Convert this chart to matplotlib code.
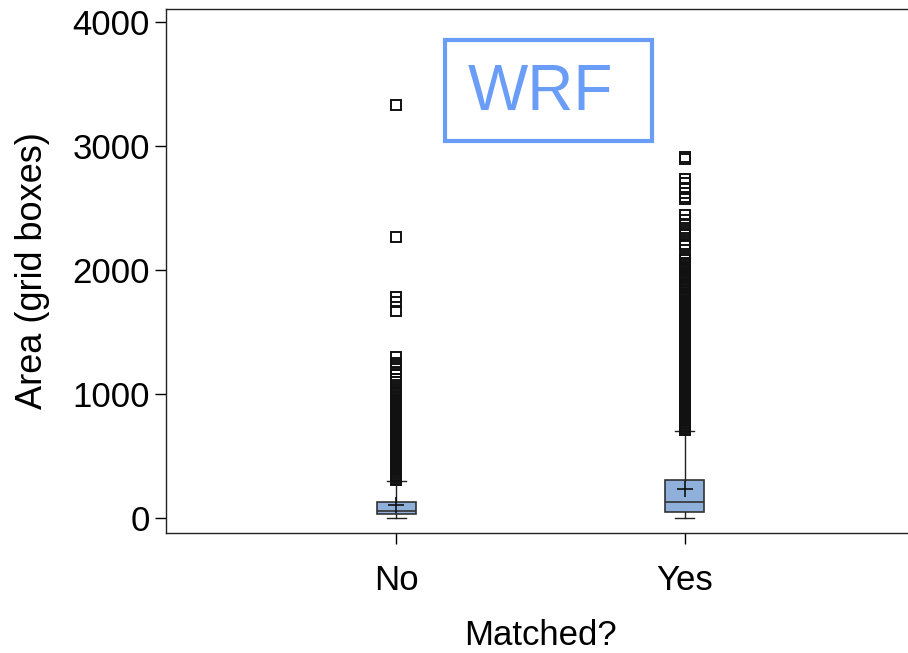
import matplotlib.pyplot as plt
from matplotlib.patches import Rectangle

plt.rcParams['font.family'] = ['Liberation Sans', 'DejaVu Sans']

groups = ['No', 'Yes']

# box statistics per group
q1 = [32, 48]
median = [56, 129]
q3 = [129, 306]
mean = [105, 234]
whisker_lo = [1, 1]
whisker_hi = [298, 702]

# outliers above the upper whisker
fliers_no = [
    305, 316, 327, 339, 350, 362, 373, 385, 397, 408, 420, 431, 443, 455,
    466, 478, 489, 501, 512, 524, 536, 547, 559, 570, 582, 594, 605, 617,
    628, 640, 652, 663, 675, 686, 698, 710, 721, 733, 744, 756, 768, 779,
    795, 806, 818, 830, 841, 853, 864, 876, 888, 899, 911, 922, 934, 946,
    957, 972, 984, 996, 1008, 1019, 1032, 1060, 1100, 1120, 1150, 1180,
    1200, 1232, 1250, 1295, 1670, 1745, 1780, 2265, 3330,
]
fliers_yes = [
    708, 719, 731, 742, 754, 765, 777, 789, 800, 812, 823, 835, 846, 858,
    870, 881, 893, 904, 916, 927, 939, 950, 962, 974, 985, 997, 1008, 1020,
    1031, 1043, 1054, 1066, 1078, 1089, 1101, 1112, 1124, 1135, 1147, 1159,
    1170, 1182, 1193, 1205, 1216, 1228, 1239, 1251, 1263, 1274, 1286, 1297,
    1309, 1320, 1332, 1344, 1355, 1367, 1378, 1390, 1401, 1413, 1424, 1436,
    1448, 1459, 1471, 1482, 1494, 1505, 1517, 1528, 1540, 1552, 1563, 1575,
    1586, 1598, 1609, 1621, 1633, 1644, 1656, 1667, 1679, 1690, 1702, 1713,
    1725, 1737, 1748, 1760, 1771, 1783, 1794, 1806, 1820, 1832, 1855, 1866,
    1878, 1889, 1912, 1924, 1944, 1955, 1967, 1978, 1990, 2001, 2013, 2034,
    2046, 2060, 2080, 2100, 2195, 2210, 2240, 2280, 2310, 2340, 2370, 2400,
    2440, 2570, 2590, 2625, 2660, 2700, 2735, 2895, 2910,
]
fliers = [fliers_no, fliers_yes]

stats = []
for i, name in enumerate(groups):
    stats.append({
        'label': name, 'q1': q1[i], 'med': median[i], 'q3': q3[i],
        'mean': mean[i], 'whislo': whisker_lo[i], 'whishi': whisker_hi[i],
        'fliers': fliers[i],
    })

fig = plt.figure(figsize=(9.08, 6.53), dpi=100)
ax = fig.add_axes([0.1828, 0.1838, 0.825, 0.8024])

ax.bxp(stats, positions=[1, 2], widths=0.135, capwidths=0.066,
       showmeans=True, patch_artist=True,
       boxprops=dict(facecolor='#8fb0da', edgecolor='#333333', linewidth=1.2),
       medianprops=dict(color='#333333', linewidth=1.2),
       whiskerprops=dict(color='#222222', linewidth=1.0),
       capprops=dict(color='#222222', linewidth=1.0),
       meanprops=dict(marker='+', markeredgecolor='#111111', markersize=11,
                      markeredgewidth=1.2),
       flierprops=dict(marker='s', markerfacecolor='none',
                       markeredgecolor='#111111', markersize=7.6,
                       markeredgewidth=1.4))

ax.set_xlim(0.2, 2.8)
ax.set_ylim(-121, 4105)
ax.set_yticks([0, 1000, 2000, 3000, 4000])
ax.set_xticks([1, 2])
ax.set_xticklabels(groups)
ax.tick_params(axis='both', labelsize=25, length=8, width=1, direction='out')
ax.tick_params(axis='x', pad=14)
ax.spines['right'].set_visible(False)
for s in ['left', 'bottom', 'top']:
    ax.spines[s].set_color('#222222')
    ax.spines[s].set_linewidth(1.0)

ax.set_xlabel('Matched?', fontsize=25, labelpad=16)
ax.set_ylabel('Area (grid boxes)', fontsize=26, labelpad=16)

# model label in a framed box
ax.add_patch(Rectangle((0.490, 0.784), 0.228, 0.155, transform=fig.transFigure,
                       fill=False, edgecolor='#6a9df8', linewidth=3,
                       clip_on=False))
fig.text(0.595, 0.857, 'WRF', color='#6a9df8', fontsize=46,
         ha='center', va='center')

fig.savefig('out.png', dpi=100)
